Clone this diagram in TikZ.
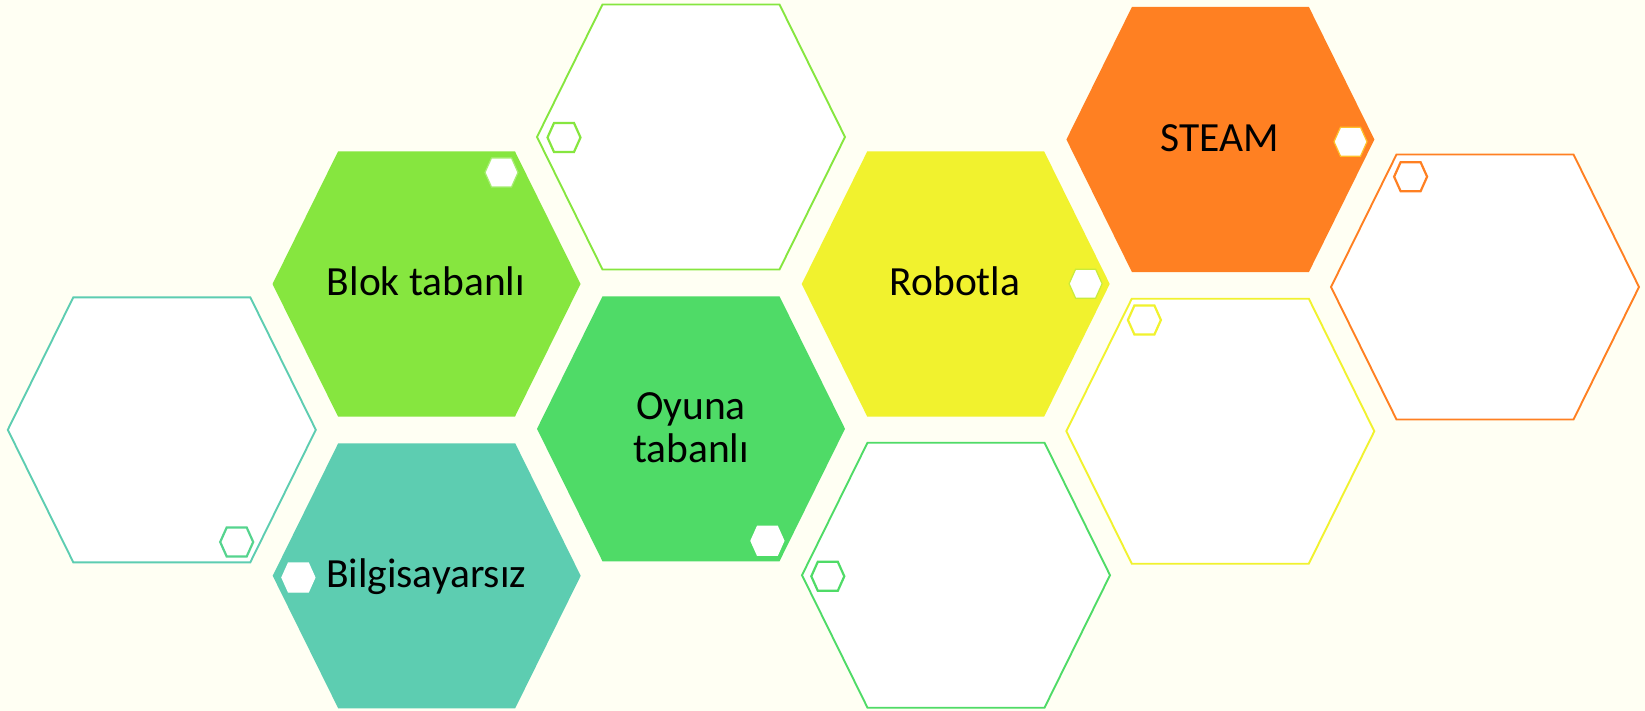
\documentclass[tikz,border=0pt]{standalone}
\usepackage{fontspec}
\setmainfont{Carlito}
\definecolor{bgc}{HTML}{FFFFF3}
\definecolor{cgreenA}{HTML}{86E63F}
\definecolor{cgreenB}{HTML}{4FDB67}
\definecolor{cteal}{HTML}{5DCDB1}
\definecolor{cyel}{HTML}{F1F22E}
\definecolor{corg}{HTML}{FF8022}
\definecolor{ctealgreen}{HTML}{55D48E}
\definecolor{cgold}{HTML}{FFC12B}
\definecolor{cyelgreen}{HTML}{C9EB3C}
\definecolor{clightgreen}{HTML}{A6EE72}
\newcommand{\bighexpath}[3][]{\path[#1] (#2,#3) ++(-154,0) -- ++(65.5,-132.5) -- ++(177,0) -- ++(65.5,132.5) -- ++(-65.5,132.5) -- ++(-177,0) -- cycle;}
\newcommand{\smallhexpath}[3][]{\path[#1] (#2,#3) ++(-16.5,0) -- ++(6.5,-14.5) -- ++(20,0) -- ++(6.5,14.5) -- ++(-6.5,14.5) -- ++(-20,0) -- cycle;}
\tikzset{
  solidhex/.style={fill=#1},
  hollowhex/.style={fill=white, draw=#1, line width=1.9pt, line join=miter},
  smallhollow/.style={fill=white, draw=#1, line width=2.2pt},
  smallfilled/.style={fill=white, draw=#1, line width=1.2pt},
  label/.style={font=\fontsize{41.5}{46}\selectfont, text=black, inner sep=0pt, align=center}
}
\begin{document}
\begin{tikzpicture}[x=1pt,y=-1pt]
\useasboundingbox (0,0) rectangle (1645,711);
\fill[bgc] (0,0) rectangle (1645,711);
% big hexagons
\bighexpath[solidhex=cgreenA]{426.5}{284}
\bighexpath[hollowhex=cgreenA]{691}{137}
\bighexpath[solidhex=cyel]{955.7}{284}
\bighexpath[solidhex=corg]{1220.4}{139.5}
\bighexpath[hollowhex=corg]{1485}{287}
\bighexpath[hollowhex=cteal]{161.8}{429.8}
\bighexpath[solidhex=cgreenB]{691}{428.8}
\bighexpath[hollowhex=cyel]{1220.3}{431.2}
\bighexpath[solidhex=cteal]{426.7}{575.8}
\bighexpath[hollowhex=cgreenB]{956}{575.2}
% small hexagons
\smallhexpath[smallfilled=clightgreen]{501.5}{172.5}
\smallhexpath[smallhollow=cgreenA]{564}{137.5}
\smallhexpath[smallfilled=cyelgreen]{1085.6}{283.7}
\smallhexpath[smallfilled=cgold]{1350.5}{141.7}
\smallhexpath[smallhollow=corg]{1410.6}{176.7}
\smallhexpath[smallhollow=cyel]{1144.4}{320}
\smallhexpath[smallhollow=ctealgreen]{236.7}{542}
\smallhexpath[smallfilled=white]{767.4}{540.8}
\smallhexpath[smallfilled=white]{298.4}{577.5}
\smallhexpath[smallhollow=cgreenB]{827.8}{576.3}
% labels
\node[label, anchor=base] (blok) at (426,295.5) {Blok tabanlı};
\node[label, anchor=base] (robot) at (955,295) {Robotla};
\node[label, anchor=base] (steam) at (1220,151.5) {STEAM};
\node[label, anchor=base] (bilg) at (426,587) {Bilgisayarsız};
\node[label, anchor=center] (oyun) at (691,428) {Oyuna\\[-3pt]tabanlı};
\end{tikzpicture}
\end{document}
